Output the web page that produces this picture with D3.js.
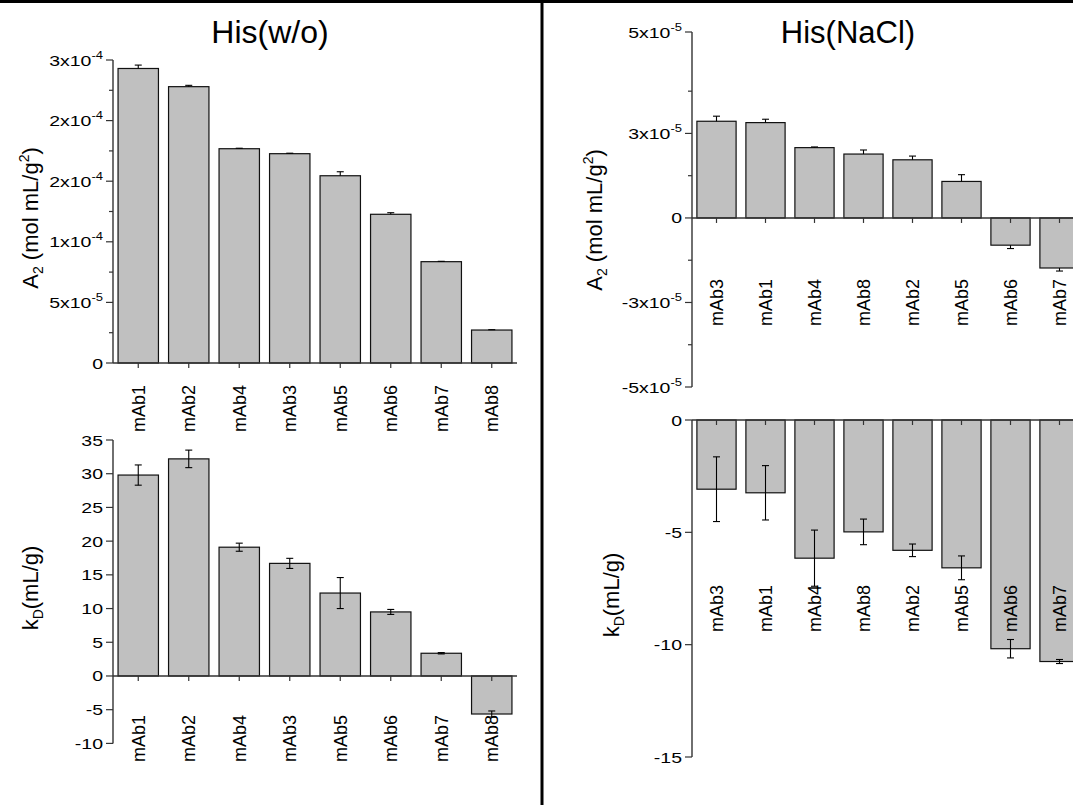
<!DOCTYPE html>
<html>
<head>
<meta charset="utf-8">
<script src="https://cdn.jsdelivr.net/npm/d3@7"></script>
<style>
  body { margin: 0; background: #fff; }
  text { font-family: Arial, "Liberation Sans", sans-serif; fill: #000; }
</style>
</head>
<body>
<div id="chart"></div>
<script>
// categories, in plotted order
const catsPlain = ["mAb1", "mAb2", "mAb4", "mAb3", "mAb5", "mAb6", "mAb7", "mAb8"];
const catsNacl = ["mAb3", "mAb1", "mAb4", "mAb8", "mAb2", "mAb5", "mAb6", "mAb7"];

// His(w/o)
const a2Plain = [2.43e-4, 2.28e-4, 1.768e-4, 1.727e-4, 1.545e-4, 1.227e-4, 8.36e-5, 2.72e-5];
const a2PlainErr = [2.8e-6, 1.1e-6, 4e-7, 4e-7, 3.3e-6, 1.3e-6, 3e-7, 3e-7];
const kdPlain = [29.8, 32.2, 19.1, 16.7, 12.3, 9.5, 3.37, -5.64];
const kdPlainErr = [1.5, 1.3, 0.6, 0.75, 2.3, 0.37, 0.1, 0.45];

// His(NaCl)
const a2Nacl = [2.86e-5, 2.82e-5, 2.08e-5, 1.89e-5, 1.72e-5, 1.08e-5, -8.05e-6, -1.48e-5];
const a2NaclErr = [1.5e-6, 1.0e-6, 2e-7, 1.2e-6, 1.1e-6, 2.0e-6, 1.0e-6, 9e-7];
const kdNacl = [-3.08, -3.24, -6.15, -4.98, -5.8, -6.58, -10.18, -10.75];
const kdNaclErr = [1.44, 1.21, 1.25, 0.57, 0.28, 0.53, 0.41, 0.09];

// axis ticks (labels as printed on the original, one significant figure)
const a2PlainTicks = [0, 5e-5, 1e-4, 1.5e-4, 2e-4, 2.5e-4];
const a2PlainTickLabels = ["0", "5x10^-5", "1x10^-4", "2x10^-4", "2x10^-4", "3x10^-4"];
const a2PlainMinor = [2.5e-5, 7.5e-5, 1.25e-4, 1.75e-4, 2.25e-4];
const kdPlainTicks = [35, 30, 25, 20, 15, 10, 5, 0, -5, -10];
const a2NaclTicks = [5.5e-5, 2.5e-5, 0, -2.5e-5, -5e-5];
const a2NaclTickLabels = ["5x10^-5", "3x10^-5", "0", "-3x10^-5", "-5x10^-5"];
const a2NaclMinor = [3.75e-5, 1.25e-5, -1.25e-5, -3.75e-5];
const kdNaclTicks = [0, -5, -10, -15];

const W = 1073, H = 805;
const svg = d3.select("#chart").append("svg")
    .attr("width", W)
    .attr("height", H);

// frame: top rule and the divider between the two columns
svg.append("rect").attr("x", 0).attr("y", 0).attr("width", W).attr("height", 3).attr("fill", "#000");
svg.append("rect").attr("x", 540.5).attr("y", 0).attr("width", 3).attr("height", H).attr("fill", "#000");

svg.append("text").attr("x", 270).attr("y", 43).attr("text-anchor", "middle")
    .style("font-size", "32px").text("His(w/o)");
svg.append("text").attr("x", 848).attr("y", 43).attr("text-anchor", "middle")
    .style("font-size", "31px").text("His(NaCl)");

// writes "3x10^-4" as 3x10 with a superscript
function tickText(sel, s) {
    const parts = String(s).split("^");
    sel.append("tspan").text(parts[0]);
    if (parts.length > 1) {
        sel.append("tspan").attr("dy", -7).style("font-size", "10px").text(parts[1]);
    }
}

function drawPanel(p) {
    const g = svg.append("g");
    const x = d3.scaleBand()
        .domain(p.cats)
        .range(p.xRange)
        .paddingInner(0.2)
        .paddingOuter(0.1);
    const y = d3.scaleLinear().domain(p.yDomain).range(p.yRange);
    const y0 = y(0);

    // bars
    g.selectAll(".bar")
        .data(p.cats)
        .enter()
        .append("rect")
            .attr("class", "bar")
            .attr("x", d => x(d))
            .attr("width", x.bandwidth())
            .attr("y", (d, i) => Math.min(y(p.vals[i]), y0))
            .attr("height", (d, i) => Math.abs(y(p.vals[i]) - y0))
            .attr("fill", "#c0c0c0")
            .attr("stroke", "#111")
            .attr("stroke-width", 1.2);

    // error bars: A2 only away from zero, kD both ways
    const cap = 3.5;
    p.cats.forEach((c, i) => {
        const cx = x(c) + x.bandwidth() / 2;
        const v = p.vals[i], e = p.errs[i];
        let lo, hi;
        if (p.errMode === "out") {
            lo = v;
            hi = v + Math.sign(v) * e;
        } else {
            lo = v - e;
            hi = v + e;
        }
        const ends = p.errMode === "out" ? [hi] : [lo, hi];
        g.append("line")
            .attr("x1", cx).attr("x2", cx)
            .attr("y1", y(lo)).attr("y2", y(hi))
            .attr("stroke", "#000").attr("stroke-width", 1.1);
        ends.forEach(t => {
            g.append("line")
                .attr("x1", cx - cap).attr("x2", cx + cap)
                .attr("y1", y(t)).attr("y2", y(t))
                .attr("stroke", "#000").attr("stroke-width", 1.1);
        });
    });

    // y axis
    const ax = p.xRange[0];
    g.append("line")
        .attr("x1", ax).attr("x2", ax)
        .attr("y1", p.yRange[1]).attr("y2", p.yRange[0])
        .attr("stroke", "#333").attr("stroke-width", 1.4);
    p.ticks.forEach((t, i) => {
        g.append("line")
            .attr("x1", ax - 7).attr("x2", ax)
            .attr("y1", y(t)).attr("y2", y(t))
            .attr("stroke", "#333").attr("stroke-width", 1.2);
        const lbl = g.append("text")
            .attr("text-anchor", "end")
            .attr("transform", `translate(${ax - 10},${y(t) + 5.5}) scale(1.3,1)`)
            .style("font-size", "15px");
        tickText(lbl, p.tickLabels ? p.tickLabels[i] : t);
    });
    (p.minor || []).forEach(t => {
        g.append("line")
            .attr("x1", ax - 4).attr("x2", ax)
            .attr("y1", y(t)).attr("y2", y(t))
            .attr("stroke", "#333").attr("stroke-width", 1.2);
    });

    // x axis at zero
    g.append("line")
        .attr("x1", ax).attr("x2", p.xEnd)
        .attr("y1", y0).attr("y2", y0)
        .attr("stroke", "#333").attr("stroke-width", 1.4);
    p.cats.forEach(c => {
        const cx = x(c) + x.bandwidth() / 2;
        g.append("line")
            .attr("x1", cx).attr("x2", cx)
            .attr("y1", y0).attr("y2", y0 + 5)
            .attr("stroke", "#333").attr("stroke-width", 1.2);
        g.append("text")
            .attr("transform", `translate(${cx},${p.labelTop}) rotate(-90)`)
            .attr("text-anchor", "end")
            .attr("dy", "0.36em")
            .style("font-size", "18px")
            .text(c);
    });

    // y title
    const yt = g.append("text")
        .attr("transform", `translate(${p.titlePos[0]},${p.titlePos[1]}) rotate(-90)`)
        .attr("text-anchor", "middle")
        .style("font-size", "22px");
    p.title.forEach(part => {
        const ts = yt.append("tspan").text(part.t);
        if (part.sub) ts.attr("dy", 5).style("font-size", "14px");
        if (part.sup) ts.attr("dy", -9).style("font-size", "14px");
        if (part.back) ts.attr("dy", part.back);
    });
}

const a2Title = [
    {t: "A"}, {t: "2", sub: true}, {t: " (mol mL/g", back: -5}, {t: "2", sup: true}, {t: ")", back: 9}
];
const kdTitle = [
    {t: "k"}, {t: "D", sub: true}, {t: "(mL/g)", back: -5}
];

drawPanel({
    cats: catsPlain, vals: a2Plain, errs: a2PlainErr, errMode: "out",
    xRange: [113, 517], xEnd: 517,
    yDomain: [0, 2.5e-4], yRange: [363, 60],
    ticks: a2PlainTicks, tickLabels: a2PlainTickLabels, minor: a2PlainMinor,
    labelTop: 385, title: a2Title, titlePos: [38, 218]
});
drawPanel({
    cats: catsPlain, vals: kdPlain, errs: kdPlainErr, errMode: "both",
    xRange: [113, 517], xEnd: 517,
    yDomain: [-10, 35], yRange: [743.4, 440],
    ticks: kdPlainTicks,
    labelTop: 715, title: kdTitle, titlePos: [38, 588]
});
drawPanel({
    cats: catsNacl, vals: a2Nacl, errs: a2NaclErr, errMode: "out",
    xRange: [692, 1084], xEnd: 1084,
    yDomain: [-5e-5, 5.5e-5], yRange: [387, 32],
    ticks: a2NaclTicks, tickLabels: a2NaclTickLabels, minor: a2NaclMinor,
    labelTop: 279, title: a2Title, titlePos: [602, 220]
});
drawPanel({
    cats: catsNacl, vals: kdNacl, errs: kdNaclErr, errMode: "both",
    xRange: [692, 1084], xEnd: 1084,
    yDomain: [-15, 0], yRange: [757, 420],
    ticks: kdNaclTicks,
    labelTop: 585, title: kdTitle, titlePos: [619, 595]
});
</script>
</body>
</html>
